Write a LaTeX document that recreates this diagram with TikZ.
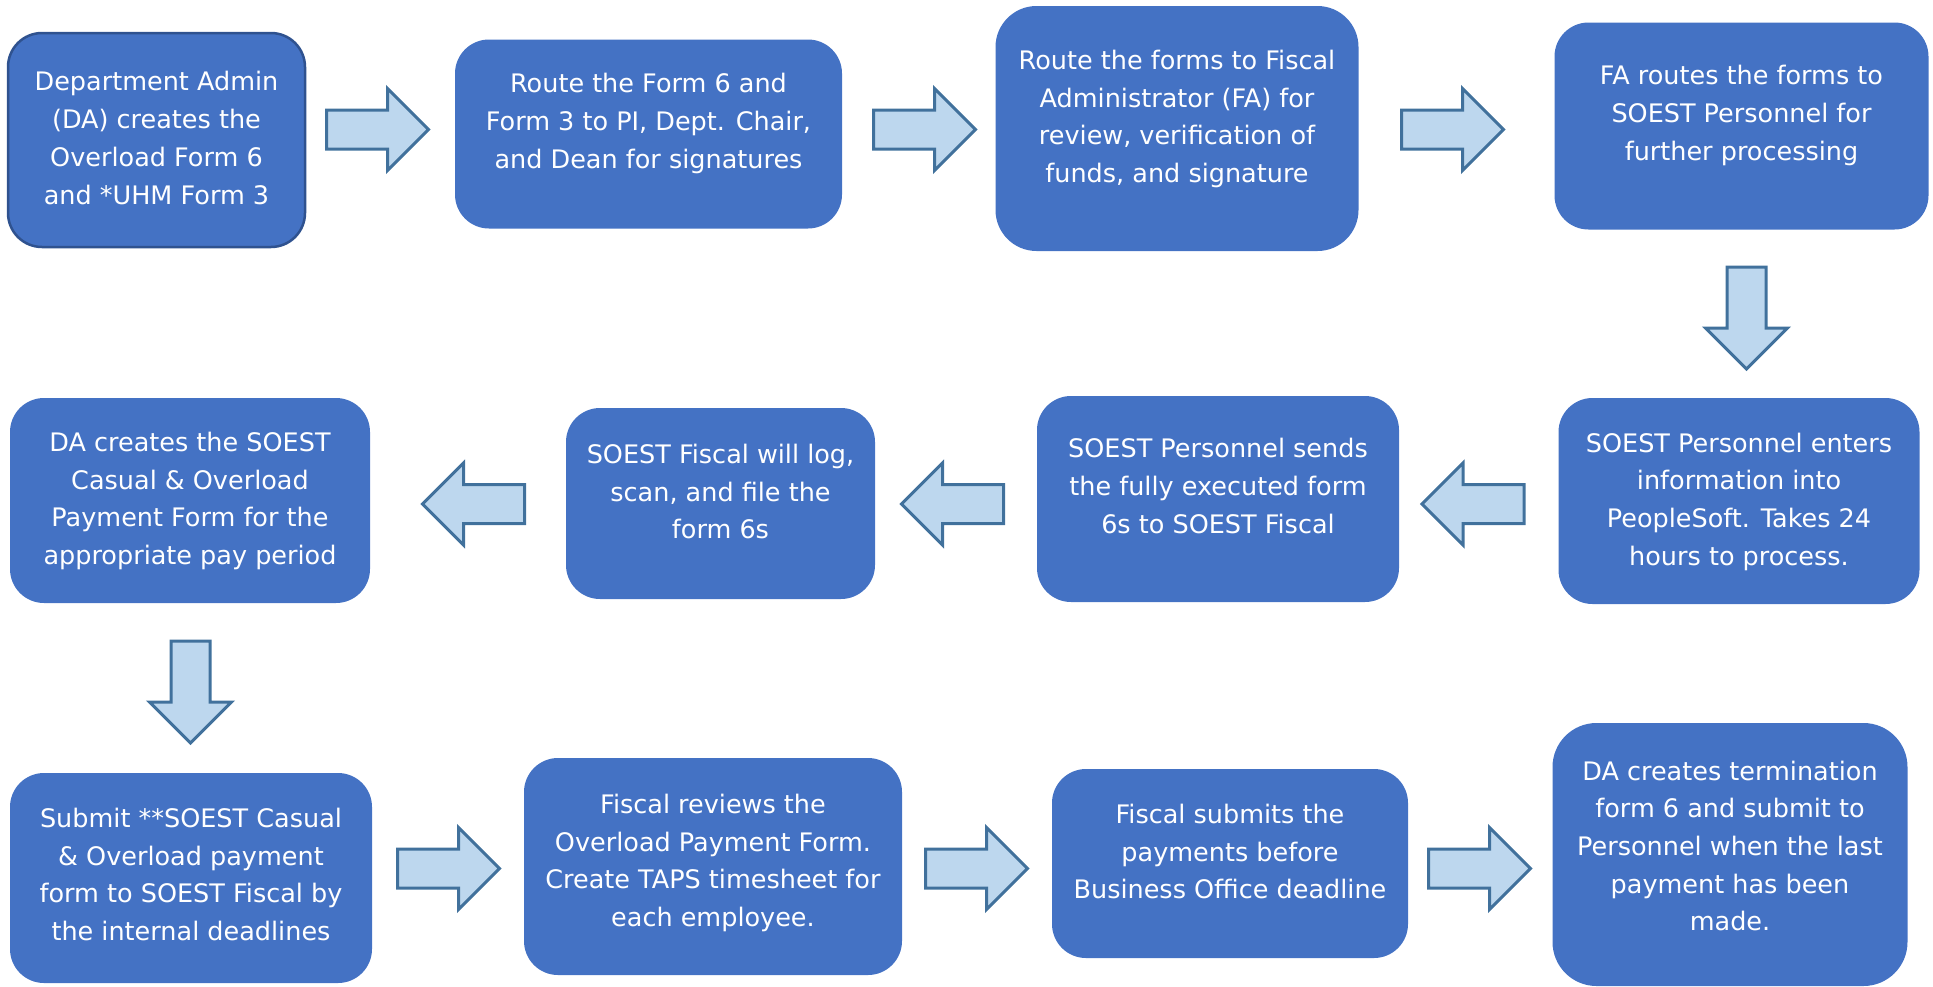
\documentclass[tikz,border=0pt]{standalone}
\usepackage{fontspec}
\setmainfont{DejaVu Sans}

\definecolor{boxblue}{HTML}{4472C4}
\definecolor{boxline}{HTML}{2F528F}
\definecolor{arrowfill}{HTML}{BDD7EE}
\definecolor{arrowline}{HTML}{41719C}

% text of a step, with some extra room below it
\newcommand{\steptext}[2]{\raisebox{0pt}[\height][\dimexpr\depth+#1pt\relax]{\begin{tabular}{@{}c@{}}#2\end{tabular}}}

\begin{document}
\begin{tikzpicture}[x=1pt, y=-1pt]
\tikzset{stepbox/.style={fill=boxblue, text=white, rounded corners=34pt, inner sep=0pt,
                         font=\fontsize{25.5}{37.7}\selectfont},
         blockarrow/.pic={\draw[fill=arrowfill, draw=arrowline, line width=3pt]
                          (-51,-19.5) -- (10,-19.5) -- (10,-41) -- (51,0) -- (10,41) -- (10,19.5) -- (-51,19.5) -- cycle;}}
\useasboundingbox (0,0) rectangle (1933,986);

% first row
\node[stepbox, draw=boxline, line width=2.5pt, minimum width=297pt, minimum height=214pt] (admin) at (156.5,140)
  {\steptext{0}{Department Admin\\(DA) creates the\\Overload Form 6\\and *UHM Form 3}};
\node[stepbox, minimum width=387pt, minimum height=189pt] (route) at (648.5,134)
  {\steptext{22}{Route the Form 6 and\\Form 3 to PI, Dept. Chair,\\and Dean for signatures}};
\node[stepbox, rounded corners=41pt, minimum width=363pt, minimum height=245pt] (fiscal) at (1177,128.5)
  {\steptext{20}{Route the forms to Fiscal\\Administrator (FA) for\\review, verification of\\funds, and signature}};
\node[stepbox, minimum width=374pt, minimum height=207pt] (personnel) at (1741.5,126)
  {\steptext{22}{FA routes the forms to\\SOEST Personnel for\\further processing}};

% second row
\node[stepbox, minimum width=361pt, minimum height=206pt] (enter) at (1739,501)
  {\steptext{0}{SOEST Personnel enters\\information into\\PeopleSoft. Takes 24\\hours to process.}};
\node[stepbox, minimum width=362pt, minimum height=206pt] (sends) at (1218,499)
  {\steptext{22}{SOEST Personnel sends\\the fully executed form\\6s to SOEST Fiscal}};
\node[stepbox, minimum width=309pt, minimum height=191pt] (log) at (720.5,503.5)
  {\steptext{20}{SOEST Fiscal will log,\\scan, and file the\\form 6s}};
\node[stepbox, minimum width=360pt, minimum height=205pt] (payform) at (190,500.5)
  {\steptext{0}{DA creates the SOEST\\Casual \& Overload\\Payment Form for the\\appropriate pay period}};

% third row
\node[stepbox, minimum width=362pt, minimum height=210pt] (submit) at (191,878)
  {\steptext{3}{Submit **SOEST Casual\\\& Overload payment\\form to SOEST Fiscal by\\the internal deadlines}};
\node[stepbox, minimum width=378pt, minimum height=217pt] (review) at (713,866.5)
  {\steptext{8}{Fiscal reviews the\\Overload Payment Form.\\Create TAPS timesheet for\\each employee.}};
\node[stepbox, minimum width=356pt, minimum height=189pt] (deadline) at (1230,863.5)
  {\steptext{20}{Fiscal submits the\\payments before\\Business Office deadline}};
\node[stepbox, rounded corners=44pt, minimum width=355pt, minimum height=263pt] (terminate) at (1730,854.5)
  {\steptext{13}{DA creates termination\\form 6 and submit to\\Personnel when the last\\payment has been\\made.}};

% block arrows
\pic at (377.5,129.5) {blockarrow};
\pic at (924.5,129.5) {blockarrow};
\pic at (1452.5,129.5) {blockarrow};
\pic[rotate=-90] at (1746.5,318) {blockarrow};
\pic[rotate=180] at (1473,504) {blockarrow};
\pic[rotate=180] at (952.5,504) {blockarrow};
\pic[rotate=180] at (473.5,504) {blockarrow};
\pic[rotate=-90] at (190.5,692) {blockarrow};
\pic at (448.5,868.5) {blockarrow};
\pic at (976.5,868.5) {blockarrow};
\pic at (1479.5,868.5) {blockarrow};
\end{tikzpicture}
\end{document}
